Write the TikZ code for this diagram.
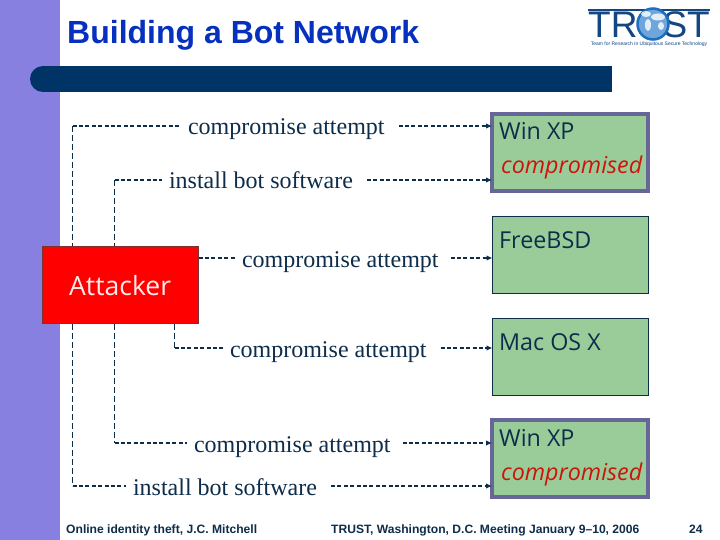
\documentclass[tikz,border=0pt]{standalone}
\usepackage{fontspec}
\setmainfont{Liberation Serif}
\newfontfamily\arialfont{Liberation Sans}
\newfontfamily\tahomafont{Open Sans}
\usetikzlibrary{arrows.meta}
\definecolor{sidebar}{RGB}{135,128,224}
\definecolor{barblue}{RGB}{0,51,102}
\definecolor{titleblue}{RGB}{6,48,190}
\definecolor{inkblue}{RGB}{14,45,74}
\definecolor{boxgreen}{RGB}{153,204,153}
\definecolor{boxedge}{RGB}{102,102,153}
\definecolor{logoblue}{RGB}{20,70,130}
\definecolor{globering}{RGB}{30,110,190}
\definecolor{globefill}{RGB}{110,165,220}
\definecolor{attedge}{RGB}{125,50,50}
\definecolor{hotred}{RGB}{205,20,10}
\tikzset{
  x=1pt,y=-1pt,
  lbl/.style={font=\fontsize{24}{24}\selectfont,text=inkblue,inner sep=0pt,outer sep=0pt,text height=18pt,text depth=0pt,anchor=west},
  host/.style={draw=inkblue,line width=1pt,fill=boxgreen,minimum width=156pt,minimum height=77pt,inner sep=0pt,outer sep=0pt,anchor=north west},
  hot/.style={host,draw=boxedge,line width=4pt},
  hosttext/.style={font=\tahomafont\fontsize{23.3}{23.3}\selectfont,text=inkblue,inner sep=0pt,anchor=base west},
  redtext/.style={font=\tahomafont\itshape\fontsize{23.3}{23.3}\selectfont,text=hotred,inner sep=0pt,anchor=base west},
  hseg/.style={draw=inkblue,line width=1.2pt,dash pattern=on 4pt off 2.4pt},
  vseg/.style={draw=inkblue,line width=1.1pt,dash pattern=on 6pt off 3pt},
  hlead/.style={hseg,-{Latex[length=6pt,width=5.5pt]}},
  foot/.style={font=\arialfont\bfseries\fontsize{12.1}{12.1}\selectfont,text=inkblue,inner sep=0pt,anchor=base west}
}
\begin{document}
\begin{tikzpicture}
\useasboundingbox (0,0) rectangle (720,540);
\fill[white] (0,0) rectangle (720,540);
\fill[sidebar] (0,0) rectangle (60,540);
\fill[barblue] (43,66) rectangle (612,92);
\fill[barblue] (43,79) circle[radius=13];
\node[font=\arialfont\bfseries\fontsize{32}{32}\selectfont,text=titleblue,inner sep=0pt,anchor=base west] (title) at (67,44) {Building a Bot Network};
% logo
\fill[logoblue] (588,9) rectangle (710,11);
\node[font=\arialfont\fontsize{37}{37}\selectfont,text=logoblue,inner sep=0pt,anchor=base west] (logotr) at (588,38) {TR};
\node[font=\arialfont\fontsize{37}{37}\selectfont,text=logoblue,inner sep=0pt,anchor=base east] (logost) at (710,38) {ST};
\node[circle,draw=globering,line width=2.5pt,fill=globefill,minimum size=31pt,inner sep=0pt] (globe) at (653,24) {};
\fill[white,opacity=.8] (646,14) ellipse[x radius=5,y radius=3];
\fill[white,opacity=.8] (658,17) ellipse[x radius=7,y radius=3.5];
\fill[white,opacity=.8] (648,25) ellipse[x radius=3,y radius=6];
\fill[white,opacity=.8] (661,26) ellipse[x radius=3,y radius=4];
\node[font=\arialfont\fontsize{5}{5}\selectfont,text=logoblue,inner sep=0pt] (logosub) at (649,44) {Team for Research in Ubiquitous Secure Technology};
% hosts
\node[hot] (win1) at (492,114) {};
\node[host] (bsd) at (492.5,216.5) {};
\node[host] (mac) at (492.5,318.5) {};
\node[hot] (win2) at (492,420) {};
\node[hosttext] (win1t) at (499,140) {Win XP};
\node[redtext] (win1c) at (501,174) {compromised};
\node[hosttext] (bsdt) at (499,248) {FreeBSD};
\node[hosttext] (mact) at (499,350) {Mac OS X};
\node[hosttext] (win2t) at (499,446) {Win XP};
\node[redtext] (win2c) at (501,480) {compromised};
% labels
\node[lbl] (l1) at (188,126) {compromise attempt};
\node[lbl] (l2) at (169,180) {install bot software};
\node[lbl] (l3) at (242,258) {compromise attempt};
\node[lbl] (l4) at (230,348) {compromise attempt};
\node[lbl] (l5) at (194,443) {compromise attempt};
\node[lbl] (l6) at (133,486) {install bot software};
% trunks
\coordinate (k1) at (72.5,126);
\coordinate (k2) at (114.5,180);
\coordinate (k4) at (174.5,348);
\coordinate (k5) at (114.5,443);
\coordinate (k6) at (72.5,486);
% attacker sits over the trunks
\draw[vseg] (k1) -- (72.5,324);
\draw[vseg] (72.5,324) -- (k6);
\draw[vseg] (k2) -- (114.5,324);
\draw[vseg] (114.5,324) -- (k5);
\draw[vseg] (174.5,324) -- (k4);
\node[draw=attedge,line width=1pt,fill=red,minimum width=156pt,minimum height=77pt,inner sep=0pt,outer sep=0pt,anchor=north west] (attacker) at (42.5,246.5) {};
\node[font=\tahomafont\fontsize{26.5}{26.5}\selectfont,text=white!92!red,inner sep=0pt,anchor=base west] (attt) at (69,295) {Attacker};
% connectors
\draw[hseg] (k1) -- ([xshift=-7pt]l1.west);
\draw[hlead] ([xshift=14pt]l1.east) -- (win1.west |- l1.east);
\draw[hseg] (k2) -- ([xshift=-7pt]l2.west);
\draw[hlead] ([xshift=14pt]l2.east) -- (win1.west |- l2.east);
\draw[hseg] (attacker.east |- l3.west) -- ([xshift=-7pt]l3.west);
\draw[hlead] ([xshift=12pt]l3.east) -- (bsd.west |- l3.east);
\draw[hseg] (k4) -- ([xshift=-7pt]l4.west);
\draw[hlead] ([xshift=14pt]l4.east) -- (mac.west |- l4.east);
\draw[hseg] (k5) -- ([xshift=-7pt]l5.west);
\draw[hlead] ([xshift=12pt]l5.east) -- (win2.west |- l5.east);
\draw[hseg] (k6) -- ([xshift=-7pt]l6.west);
\draw[hlead] ([xshift=14pt]l6.east) -- (win2.west |- l6.east);
% footer
\node[foot] (f1) at (66,533) {Online identity theft, J.C. Mitchell};
\node[foot] (f2) at (331,533) {TRUST, Washington, D.C. Meeting January 9–10, 2006};
\node[foot] (f3) at (689,533) {24};
\end{tikzpicture}
\end{document}
